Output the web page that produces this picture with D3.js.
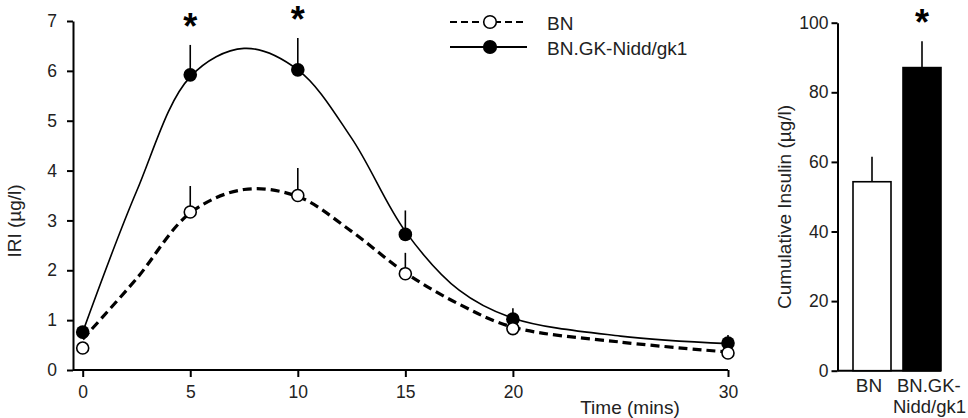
<!DOCTYPE html>
<html>
<head>
<meta charset="utf-8">
<script src="https://cdn.jsdelivr.net/npm/d3@7"></script>
<style>
  body { margin: 0; background: #fff; }
  svg { font-family: "Liberation Sans", Arial, sans-serif; }
  .axis path, .axis line { stroke: #000; stroke-width: 2; }
  .axis text { font-size: 17.5px; fill: #222; }
</style>
</head>
<body>
<svg id="chart" width="968" height="418"></svg>
<script>
// time course data
const times = [0, 5, 10, 15, 20, 30];
const bnMean = [0.44, 3.17, 3.50, 1.93, 0.83, 0.34];
const bnErr = [0, 0.52, 0.55, 0.42, 0, 0];
const gkMean = [0.76, 5.92, 6.02, 2.72, 1.02, 0.54];
const gkErr = [0, 0.60, 0.64, 0.48, 0.22, 0.16];

// fitted curves
const fitTimes = [0, 2.5, 5, 7.5, 10, 12.5, 15, 17.5, 20, 25, 30];
const bnFit = [0.62, 1.83, 3.15, 3.62, 3.48, 2.78, 1.95, 1.32, 0.86, 0.56, 0.36];
const gkFit = [0.76, 3.58, 5.88, 6.45, 6.02, 4.65, 2.78, 1.60, 1.04, 0.68, 0.53];

const xTicks = [0, 5, 10, 15, 20, 30];
const yTicks = [0, 1, 2, 3, 4, 5, 6, 7];
const sigTimes = [5, 10];

// cumulative insulin bars
const barCats = ["BN", "BN.GK-Nidd/gk1"];
const barMean = [54.3, 87.1];
const barErr = [7.2, 7.6];
const barTicks = [0, 20, 40, 60, 80, 100];

const svg = d3.select("#chart");

// ---- left panel ----
const x = d3.scaleLinear().domain([0, 30]).range([82.7, 728]);
const y = d3.scaleLinear().domain([0, 7]).range([370, 21]);
const axX0 = 73;

svg.append("g")
    .attr("class", "axis")
    .attr("transform", "translate(0,370)")
    .call(d3.axisBottom(x).tickValues(xTicks).tickFormat(d3.format("d")).tickSize(7).tickPadding(9).tickSizeOuter(0))
    .call(g => g.select(".domain").attr("d", `M${axX0},0H${x(30)}`));

svg.append("g")
    .attr("class", "axis")
    .attr("transform", `translate(${axX0},0)`)
    .call(d3.axisLeft(y).tickValues(yTicks).tickFormat(d3.format("d")).tickSize(6).tickPadding(10).tickSizeOuter(0));

svg.append("text")
    .attr("transform", "translate(21,221) rotate(-90)")
    .attr("text-anchor", "middle")
    .style("font-size", "19px").style("fill", "#222")
    .text("IRI (µg/l)");

svg.append("text")
    .attr("x", 630).attr("y", 414)
    .attr("text-anchor", "middle")
    .style("font-size", "19px").style("fill", "#222")
    .text("Time (mins)");

const line = d3.line()
    .x(d => x(d[0]))
    .y(d => y(d[1]))
    .curve(d3.curveCatmullRom.alpha(0.5));

svg.append("path")
    .datum(fitTimes.map((t, i) => [t, gkFit[i]]))
    .attr("d", line)
    .attr("fill", "none").attr("stroke", "#000").attr("stroke-width", 1.6);

svg.append("path")
    .datum(fitTimes.map((t, i) => [t, bnFit[i]]))
    .attr("d", line)
    .attr("fill", "none").attr("stroke", "#000").attr("stroke-width", 3.2)
    .attr("stroke-dasharray", "9,5");

// error bars (upward only)
function errBars(mean, err) {
    svg.append("g").selectAll("line")
        .data(times.map((t, i) => ({ t, m: mean[i], e: err[i] })).filter(d => d.e > 0))
        .enter().append("line")
        .attr("x1", d => x(d.t)).attr("x2", d => x(d.t))
        .attr("y1", d => y(d.m)).attr("y2", d => y(d.m + d.e))
        .attr("stroke", "#000").attr("stroke-width", 1.6);
}
errBars(gkMean, gkErr);
errBars(bnMean, bnErr);

svg.append("g").selectAll("circle")
    .data(times.map((t, i) => [t, gkMean[i]]))
    .enter().append("circle")
    .attr("cx", d => x(d[0])).attr("cy", d => y(d[1]))
    .attr("r", 6.8).attr("fill", "#000");

svg.append("g").selectAll("circle")
    .data(times.map((t, i) => [t, bnMean[i]]))
    .enter().append("circle")
    .attr("cx", d => x(d[0])).attr("cy", d => y(d[1]))
    .attr("r", 6).attr("fill", "#fff").attr("stroke", "#000").attr("stroke-width", 1.6);

// significance stars
svg.append("g").selectAll("text")
    .data(sigTimes)
    .enter().append("text")
    .attr("x", d => x(d))
    .attr("y", d => { const i = times.indexOf(d); return y(gkMean[i] + gkErr[i]) - 6; })
    .attr("text-anchor", "middle")
    .style("font-size", "36px").style("font-weight", "bold")
    .text("*");

// legend
const legend = svg.append("g");
const legItems = [
    { name: "BN", fill: "#fff", dash: "7,4", y: 22 },
    { name: "BN.GK-Nidd/gk1", fill: "#000", dash: null, y: 47 }
];
legItems.forEach(d => {
    legend.append("line")
        .attr("x1", 450).attr("x2", 527).attr("y1", d.y).attr("y2", d.y)
        .attr("stroke", "#000").attr("stroke-width", 2)
        .attr("stroke-dasharray", d.dash);
    legend.append("circle")
        .attr("cx", 490).attr("cy", d.y).attr("r", 6.3)
        .attr("fill", d.fill).attr("stroke", "#000").attr("stroke-width", 1.6);
    legend.append("text")
        .attr("x", 547).attr("y", d.y + 7.5)
        .style("font-size", "19px").style("fill", "#222")
        .text(d.name);
});

// ---- right panel ----
const yb = d3.scaleLinear().domain([0, 100]).range([370.7, 22.7]);
const xb = d3.scaleBand().domain(barCats).range([840.5, 953.5]).paddingInner(0.24).paddingOuter(0.25);
const axB = 837.5;

svg.append("g")
    .attr("class", "axis")
    .attr("transform", `translate(${axB},0)`)
    .call(d3.axisLeft(yb).tickValues(barTicks).tickSize(6).tickPadding(3).tickSizeOuter(0));

svg.append("line")
    .attr("x1", axB).attr("x2", xb(barCats[1]) + xb.bandwidth())
    .attr("y1", yb(0)).attr("y2", yb(0))
    .attr("stroke", "#000").attr("stroke-width", 2);

svg.append("g").selectAll("line")
    .data(barCats)
    .enter().append("line")
    .attr("x1", (d, i) => xb(d) + xb.bandwidth() / 2)
    .attr("x2", (d, i) => xb(d) + xb.bandwidth() / 2)
    .attr("y1", (d, i) => yb(barMean[i]))
    .attr("y2", (d, i) => yb(barMean[i] + barErr[i]))
    .attr("stroke", "#000").attr("stroke-width", 1.6);

svg.append("g").selectAll("rect")
    .data(barCats)
    .enter().append("rect")
    .attr("x", d => xb(d))
    .attr("y", (d, i) => yb(barMean[i]))
    .attr("width", xb.bandwidth())
    .attr("height", (d, i) => yb(0) - yb(barMean[i]))
    .attr("fill", (d, i) => i === 0 ? "#fff" : "#000")
    .attr("stroke", "#000").attr("stroke-width", 1.6);

svg.append("text")
    .attr("x", xb(barCats[1]) + xb.bandwidth() / 2)
    .attr("y", yb(barMean[1] + barErr[1]) - 6)
    .attr("text-anchor", "middle")
    .style("font-size", "36px").style("font-weight", "bold")
    .text("*");

// category labels
svg.append("text")
    .attr("x", xb(barCats[0]) + xb.bandwidth() / 2 - 3).attr("y", 392)
    .attr("text-anchor", "middle")
    .style("font-size", "19px").style("fill", "#222")
    .text(barCats[0]);

const gkLab = svg.append("text")
    .attr("x", xb(barCats[1]) - 6).attr("y", 392)
    .style("font-size", "18.5px").style("fill", "#222");
gkLab.append("tspan").attr("x", xb(barCats[1]) - 6).text("BN.GK-");
gkLab.append("tspan").attr("x", xb(barCats[1]) - 10).attr("dy", 21).text("Nidd/gk1");

svg.append("text")
    .attr("transform", "translate(791,207) rotate(-90)")
    .attr("text-anchor", "middle")
    .style("font-size", "19px").style("fill", "#222")
    .text("Cumulative Insulin (µg/l)");
</script>
</body>
</html>
